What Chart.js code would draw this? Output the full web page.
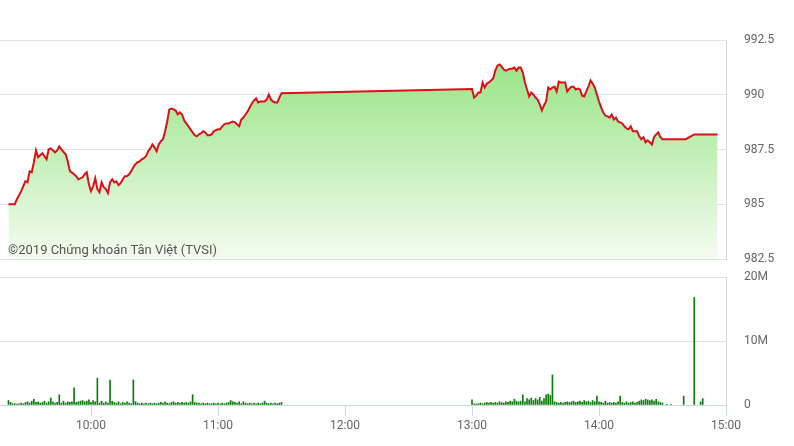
<!DOCTYPE html>
<html><head><meta charset="utf-8">
<script src="https://cdn.jsdelivr.net/npm/chart.js@4.4.1/dist/chart.umd.min.js"></script>
<style>
html,body{margin:0;padding:0;background:#fff;}
#wrap{position:relative;width:794px;height:446px;overflow:hidden;background:#fff;}
#c1{position:absolute;left:0;top:0;}
#c2{position:absolute;left:0;top:260px;}
#copy{position:absolute;left:8px;top:242px;font:13px Roboto, "Open Sans", sans-serif;color:#555;white-space:nowrap;}
</style></head><body>
<div id="wrap">
<canvas id="c1" width="794" height="270"></canvas>
<canvas id="c2" width="794" height="186"></canvas>
<div id="copy">©2019 Chứng khoán Tân Việt (TVSI)</div>
</div>
<script>
// ---- Data ----
const xTickLabels = ["10:00","11:00","12:00","13:00","14:00","15:00"];
const axisStart = "9:17", axisEnd = "15:00";
const priceTicks = [982.5, 985, 987.5, 990, 992.5];
const volumeTicks = [0, 10000000, 20000000];

const priceTimes = ["9:21","9:24","9:25","9:27","9:29","9:30","9:31","9:32","9:33","9:34","9:35","9:36","9:37","9:38","9:39","9:40","9:41","9:42","9:43","9:44","9:45","9:46","9:48","9:49","9:50","9:52","9:53","9:54","9:56","9:57","9:58","9:59",
"10:00","10:01","10:02","10:03","10:04","10:05","10:06","10:07","10:08","10:09","10:10","10:11","10:12","10:13","10:14","10:15","10:16","10:17","10:18","10:19","10:20","10:21","10:22","10:23","10:24","10:25","10:26","10:27","10:28","10:29","10:30","10:31","10:32","10:33","10:34","10:35","10:36","10:37","10:38","10:39","10:40","10:41","10:42","10:43","10:44","10:45","10:46","10:47","10:48","10:49","10:50","10:51","10:52","10:53","10:54","10:55","10:56","10:57","10:58","10:59",
"11:00","11:01","11:02","11:03","11:04","11:05","11:06","11:07","11:08","11:09","11:10","11:11","11:12","11:13","11:14","11:15","11:16","11:17","11:18","11:19","11:20","11:21","11:22","11:23","11:24","11:25","11:26","11:27","11:28","11:29","11:30",
"13:00","13:01","13:02","13:03","13:04","13:05","13:06","13:07","13:08","13:09","13:10","13:11","13:12","13:13","13:14","13:15","13:16","13:17","13:18","13:19","13:20","13:21","13:22","13:23","13:24","13:25","13:26","13:27","13:28","13:29","13:30","13:31","13:32","13:33","13:34","13:35","13:36","13:37","13:38","13:39","13:40","13:41","13:42","13:43","13:44","13:45","13:46","13:47","13:48","13:49","13:50","13:51","13:52","13:53","13:54","13:55","13:56","13:57","13:58","13:59",
"14:00","14:01","14:02","14:03","14:04","14:05","14:06","14:07","14:08","14:09","14:10","14:11","14:12","14:13","14:14","14:15","14:16","14:17","14:18","14:19","14:20","14:21","14:22","14:23","14:24","14:25","14:26","14:27","14:28","14:29","14:30","14:41","14:45","14:56"];

const prices = [985.00,985.00,985.23,985.60,986.05,986.00,986.51,986.46,986.92,987.46,987.15,987.24,987.33,987.19,987.05,987.51,987.55,987.46,987.37,987.46,987.64,987.51,987.28,986.96,986.51,986.37,986.28,986.14,986.23,986.37,986.46,985.91,
985.60,985.82,986.19,985.69,985.55,986.00,985.78,985.69,985.51,986.00,986.14,986.00,986.05,985.87,985.96,986.14,986.28,986.28,986.37,986.51,986.69,986.83,986.92,986.96,987.05,987.10,987.19,987.42,987.55,987.73,987.60,987.42,987.73,987.88,987.97,988.33,988.78,989.33,989.37,989.33,989.28,989.10,989.19,989.10,988.83,988.69,988.56,988.42,988.28,988.15,988.10,988.19,988.24,988.33,988.28,988.15,988.15,988.19,988.33,988.38,
988.42,988.42,988.56,988.65,988.69,988.69,988.74,988.78,988.74,988.65,988.56,988.87,988.96,989.10,989.24,989.42,989.60,989.74,989.83,989.65,989.69,989.69,989.69,989.78,990.01,989.78,989.69,989.65,989.65,989.87,990.07,
990.26,989.87,989.96,990.10,990.10,990.56,990.33,990.51,990.56,990.65,990.74,991.10,991.33,991.38,991.29,991.15,991.10,991.15,991.19,991.19,991.24,991.10,991.24,991.24,991.01,990.56,990.24,989.92,990.10,990.01,989.87,989.78,989.56,989.28,989.51,989.69,990.33,990.24,990.33,990.37,990.15,990.60,990.56,990.56,990.56,990.15,990.28,990.37,990.37,990.24,990.28,990.24,989.96,989.92,990.15,990.37,990.65,990.51,990.33,990.01,
989.69,989.42,989.19,989.05,989.01,988.96,989.10,988.87,988.96,988.78,988.74,988.69,988.56,988.46,988.42,988.56,988.33,988.33,988.33,988.10,987.97,988.06,987.83,987.92,987.83,987.73,988.06,988.19,988.28,988.06,987.97,987.97,988.19,988.19];

// Volume (millions of shares), one bar per minute in each continuous block
const morningVolStart = "9:21";
const morningVolumes = [
0.7,0.4,0.2,0.2,0.15,0.2,0.3,0.2,0.4,0.5,
0.3,0.6,0.9,0.4,0.5,0.3,0.4,0.6,0.3,0.5,
1.1,0.5,0.3,0.4,1.6,0.3,0.6,0.3,0.5,0.4,
0.5,2.7,0.4,0.5,0.6,0.7,0.5,0.6,0.8,0.4,
0.7,0.5,4.2,0.3,0.6,0.3,0.5,0.3,3.9,0.6,
0.4,0.3,0.5,0.2,0.4,0.3,0.5,0.3,0.2,3.9,
0.5,0.3,0.2,0.3,0.2,0.3,0.2,0.3,0.2,0.3,
0.2,0.3,0.4,0.3,0.5,0.3,0.2,0.4,0.5,0.3,
0.4,0.3,0.4,0.3,0.4,0.3,0.5,1.6,0.4,0.3,
0.3,0.2,0.3,0.2,0.3,0.2,0.2,0.3,0.2,0.3,
0.2,0.3,0.2,0.3,0.4,0.7,0.5,0.4,0.3,0.5,
0.2,0.5,0.3,0.2,0.3,0.2,0.3,0.2,0.3,0.2,
0.3,0.6,0.3,0.2,0.3,0.2,0.3,0.2,0.3,0.4];
const afternoonVolStart = "13:00";
const afternoonVolumes = [
0.8,0.2,0.15,0.2,0.3,0.2,0.3,0.4,0.3,0.4,
0.3,0.4,0.3,0.5,0.4,0.3,0.5,0.4,0.6,0.5,
0.9,0.6,0.5,0.6,1.6,0.5,1.0,0.8,1.1,0.7,
1.0,0.8,1.2,0.6,1.0,1.6,1.7,1.5,4.7,0.5,
0.4,0.3,0.4,0.3,0.4,0.5,0.4,0.5,0.6,0.4,
0.5,0.6,0.4,0.7,0.5,0.6,0.4,0.7,0.5,1.4,
0.5,0.4,0.3,0.6,0.3,0.4,0.3,0.4,0.3,0.5,
1.4,0.4,0.3,0.5,0.3,0.4,0.5,0.3,0.4,0.6,
0.8,0.7,0.9,0.8,0.7,0.8,0.6,0.9,0.5,0.4,
0.3];
const lateVolTimes = ["14:32","14:34","14:40","14:45","14:48","14:49"];
const lateVolumes = [0.1,0.1,1.4,16.8,0.5,1.0];

// ---- Helpers ----
const toMin = s => { const [h,m] = s.split(":").map(Number); return h*60+m; };
const fmt = v => { const h = Math.floor(v/60), m = v%60; return h + ":" + String(m).padStart(2,"0"); };
const X_MIN = toMin(axisStart), X_MAX = toMin(axisEnd);
const xTickValues = xTickLabels.map(toMin);

const pricePoints = priceTimes.map((t,i)=>({x:toMin(t), y:prices[i]}));
const volPoints = [];
morningVolumes.forEach((v,i)=>volPoints.push({x:toMin(morningVolStart)+i, y:v*1e6}));
afternoonVolumes.forEach((v,i)=>volPoints.push({x:toMin(afternoonVolStart)+i, y:v*1e6}));
lateVolTimes.forEach((t,i)=>volPoints.push({x:toMin(t), y:lateVolumes[i]*1e6}));

const FONT = {family:"Roboto, 'Open Sans', sans-serif", size:12};
const TICK_COLOR = "#666";
const noPad = s => { s.paddingTop = 0; s.paddingBottom = 0; };

new Chart(document.getElementById('c1'), {
  type:'line',
  data:{datasets:[{
    data: pricePoints,
    borderColor:'#dd1018',
    borderWidth:2,
    pointRadius:0,
    tension:0,
    fill:'start',
    backgroundColor(ctx){
      const a = ctx.chart.chartArea;
      if(!a) return 'rgba(150,230,130,0.6)';
      const g = ctx.chart.ctx.createLinearGradient(0,a.top,0,a.bottom);
      g.addColorStop(0,'#8ee27a');
      g.addColorStop(1,'#f3fcf0');
      return g;
    }
  }]},
  options:{
    responsive:false, animation:false, devicePixelRatio:1,
    layout:{autoPadding:false, padding:{top:40,bottom:11,left:0,right:0}},
    plugins:{legend:{display:false}, tooltip:{enabled:false}},
    scales:{
      x:{type:'linear', display:false, min:X_MIN, max:X_MAX},
      y:{position:'right', min:priceTicks[0], max:priceTicks[priceTicks.length-1],
        afterFit(s){ s.width = 68; noPad(s); },
        afterBuildTicks(s){ s.ticks = priceTicks.map(v=>({value:v})); },
        ticks:{padding:18, color:TICK_COLOR, font:FONT, callback:v=>String(v)},
        grid:{color:'#e3e3e3', drawTicks:false},
        border:{display:true, color:'#d8d8d8'}
      }
    }
  }
});

new Chart(document.getElementById('c2'), {
  type:'bar',
  data:{datasets:[{
    data: volPoints,
    backgroundColor:'#0b7d0b',
    barThickness:1,
    borderWidth:0
  }]},
  options:{
    responsive:false, animation:false, devicePixelRatio:1,
    layout:{autoPadding:false, padding:{top:17,bottom:0,left:0,right:0}},
    plugins:{legend:{display:false}, tooltip:{enabled:false}},
    scales:{
      x:{type:'linear', min:X_MIN, max:X_MAX, offset:false,
        afterBuildTicks(s){ s.ticks = xTickValues.map(v=>({value:v})); },
        afterFit(s){ s.height = 41; s.paddingLeft = 0; s.paddingRight = 0; },
        ticks:{padding:3, color:TICK_COLOR, font:FONT, maxRotation:0, autoSkip:false, callback:v=>fmt(v)},
        grid:{drawOnChartArea:false, drawTicks:true, tickLength:11, color:'#ccd6eb', offset:false},
        border:{display:true, color:'#ccd6eb'}
      },
      y:{position:'right', min:volumeTicks[0], max:volumeTicks[volumeTicks.length-1],
        afterFit(s){ s.width = 68; noPad(s); },
        afterBuildTicks(s){ s.ticks = volumeTicks.map(v=>({value:v})); },
        ticks:{padding:18, color:TICK_COLOR, font:FONT, callback:v=> v===0 ? '0' : (v/1e6)+'M'},
        grid:{color:(c)=> c.tick && c.tick.value===0 ? '#ccd6eb' : '#e3e3e3', drawTicks:false},
        border:{display:true, color:'#d8d8d8'}
      }
    }
  }
});
</script>
</body></html>
